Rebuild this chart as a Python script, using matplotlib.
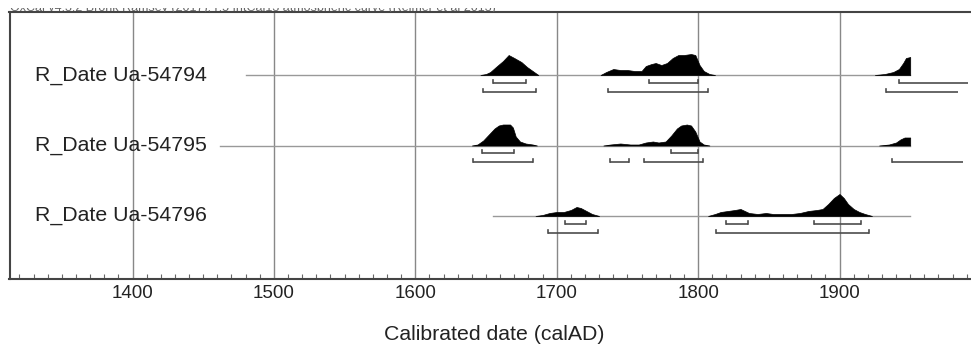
import matplotlib.pyplot as plt
from matplotlib.patches import Rectangle
from matplotlib.ticker import MultipleLocator
import matplotlib.transforms as mtransforms

plt.rcParams["font.family"] = ["Liberation Sans", "DejaVu Sans"]

ROW_LABELS = ["R_Date Ua-54794", "R_Date Ua-54795", "R_Date Ua-54796"]
HEADER_TEXT = "OxCal v4.3.2 Bronk Ramsey (2017); r:5 IntCal13 atmospheric curve (Reimer et al 2013)"

# calendar span covered by each likelihood line
LINE_START = [1480, 1462, 1655]
LINE_END = [1950, 1950, 1950]

# probability densities, heights read in pixels above the line
ua54794_years_a = [1646, 1650, 1653, 1657, 1662, 1666, 1670, 1675, 1679, 1684, 1687]
ua54794_dens_a = [0, 1, 3, 8, 14, 20, 17, 13, 8, 3, 0]
ua54794_years_b = [1731, 1735, 1740, 1745, 1750, 1755, 1760, 1763, 1767, 1770, 1774,
                   1778, 1782, 1786, 1790, 1795, 1798, 1801, 1804, 1808, 1812]
ua54794_dens_b = [0, 3, 6, 5, 5, 4, 4, 9, 11, 12, 10, 12, 17, 20, 20, 21, 20, 10, 4, 1, 0]
ua54794_years_c = [1925, 1932, 1938, 1942, 1945, 1947, 1950]
ua54794_dens_c = [0, 1, 3, 6, 12, 17, 18]

ua54795_years_a = [1640, 1644, 1648, 1652, 1656, 1659, 1662, 1667, 1669, 1671, 1674, 1678, 1683, 1686]
ua54795_dens_a = [0, 1, 5, 11, 17, 20, 21, 21, 18, 9, 4, 2, 1, 0]
ua54795_years_b = [1733, 1738, 1745, 1752, 1758, 1763, 1768, 1772, 1777, 1781, 1785,
                   1788, 1792, 1795, 1798, 1801, 1804, 1808]
ua54795_dens_b = [0, 1, 2, 1, 1, 3, 4, 3, 4, 10, 17, 20, 21, 20, 14, 4, 1, 0]
ua54795_years_c = [1928, 1935, 1940, 1943, 1946, 1950]
ua54795_dens_c = [0, 1, 3, 6, 8, 8]

ua54796_years_a = [1685, 1690, 1695, 1700, 1705, 1710, 1714, 1717, 1721, 1725, 1730]
ua54796_dens_a = [0, 1, 3, 4, 4, 6, 9, 8, 5, 2, 0]
ua54796_years_b = [1807, 1812, 1816, 1821, 1826, 1830, 1833, 1836, 1842, 1848, 1853, 1860,
                   1866, 1872, 1878, 1884, 1888, 1892, 1896, 1900, 1903, 1906, 1910,
                   1914, 1918, 1923]
ua54796_dens_b = [0, 2, 4, 5, 6, 7, 5, 3, 2, 3, 2, 2, 2, 3, 5, 6, 7, 12, 18, 22, 18, 12,
                  7, 4, 2, 0]

DENSITIES = [
    [(ua54794_years_a, ua54794_dens_a), (ua54794_years_b, ua54794_dens_b),
     (ua54794_years_c, ua54794_dens_c)],
    [(ua54795_years_a, ua54795_dens_a), (ua54795_years_b, ua54795_dens_b),
     (ua54795_years_c, ua54795_dens_c)],
    [(ua54796_years_a, ua54796_dens_a), (ua54796_years_b, ua54796_dens_b)],
]

# highest density ranges: (from, to, closed at the right end)
RANGES_68 = [
    [(1655, 1678, True), (1765, 1800, True), (1942, 1991, False)],
    [(1647.5, 1669.5, True), (1781, 1800, True)],
    [(1706, 1720.5, True), (1820, 1835, True), (1882, 1915.5, True)],
]
RANGES_95 = [
    [(1648, 1685, True), (1736, 1807, True), (1933, 1984, False)],
    [(1641, 1683, True), (1738, 1751, True), (1762, 1803.5, True), (1937, 1987, False)],
    [(1693.5, 1729, True), (1813, 1920.5, True)],
]

ROW_PX = 70.5          # pixel distance between rows
OFFSET_68 = 8 / ROW_PX
OFFSET_95 = 17 / ROW_PX
HOOK = 3 / ROW_PX


def draw_ranges(ax, row, ranges, offset):
    y = row + offset
    for start, end, closed in ranges:
        ax.plot([start, end], [y, y], color="#4d4d4d", lw=1.2, solid_capstyle="butt")
        ax.plot([start, start], [y, y - HOOK], color="#4d4d4d", lw=1.2)
        if closed:
            ax.plot([end, end], [y, y - HOOK], color="#4d4d4d", lw=1.2)


def main():
    fig = plt.figure(figsize=(9.71, 3.47), dpi=100)
    ax = fig.add_axes([9.5 / 971, 1 - 279 / 347, 970 / 971, 267 / 347])

    ax.set_xlim(1313, 1999)
    ax.set_ylim(2.894, -0.894)

    for row, label in enumerate(ROW_LABELS):
        ax.plot([LINE_START[row], LINE_END[row]], [row, row], color="#999999", lw=1.0, zorder=2)
        for years, dens in DENSITIES[row]:
            heights = [row - d / ROW_PX for d in dens]
            ax.fill_between(years, row, heights, color="black", lw=0.5, zorder=3)
        draw_ranges(ax, row, RANGES_68[row], OFFSET_68)
        draw_ranges(ax, row, RANGES_95[row], OFFSET_95)

        trans = mtransforms.blended_transform_factory(ax.transAxes, ax.transData)
        ax.text(0.0263, row, label, transform=trans, fontsize=15.3, color="#222222",
                va="center", ha="left")

    ax.xaxis.set_major_locator(MultipleLocator(100))
    ax.xaxis.set_minor_locator(MultipleLocator(10))
    ax.set_yticks([])
    ax.grid(axis="x", which="major", color="#888888", lw=1.0, zorder=1)
    ax.tick_params(axis="x", which="major", direction="in", length=0, pad=4.5,
                   labelsize=13.5, labelcolor="#222222")
    ax.tick_params(axis="x", which="minor", direction="in", length=3.6, width=0.8,
                   color="#666666")
    for side in ["left", "bottom", "top", "right"]:
        ax.spines[side].set_color("#444444")
        ax.spines[side].set_linewidth(1.5)

    fig.text(0.5 * (9.5 + 979.5) / 971, 1 - 334 / 347, "Calibrated date (calAD)",
             fontsize=15.3, color="#222222", ha="center", va="center")

    # header line of the original export, only its lower edge is left in the picture
    header = fig.text(10 / 971, 1 - 11 / 347, HEADER_TEXT, fontsize=9, color="#666666",
                      ha="left", va="baseline")
    clip = Rectangle((0, 1 - 12 / 347), 1, 4.5 / 347, transform=fig.transFigure)
    header.set_clip_path(clip)

    fig.savefig("out.png", dpi=100)
    plt.close(fig)


if __name__ == "__main__":
    main()
